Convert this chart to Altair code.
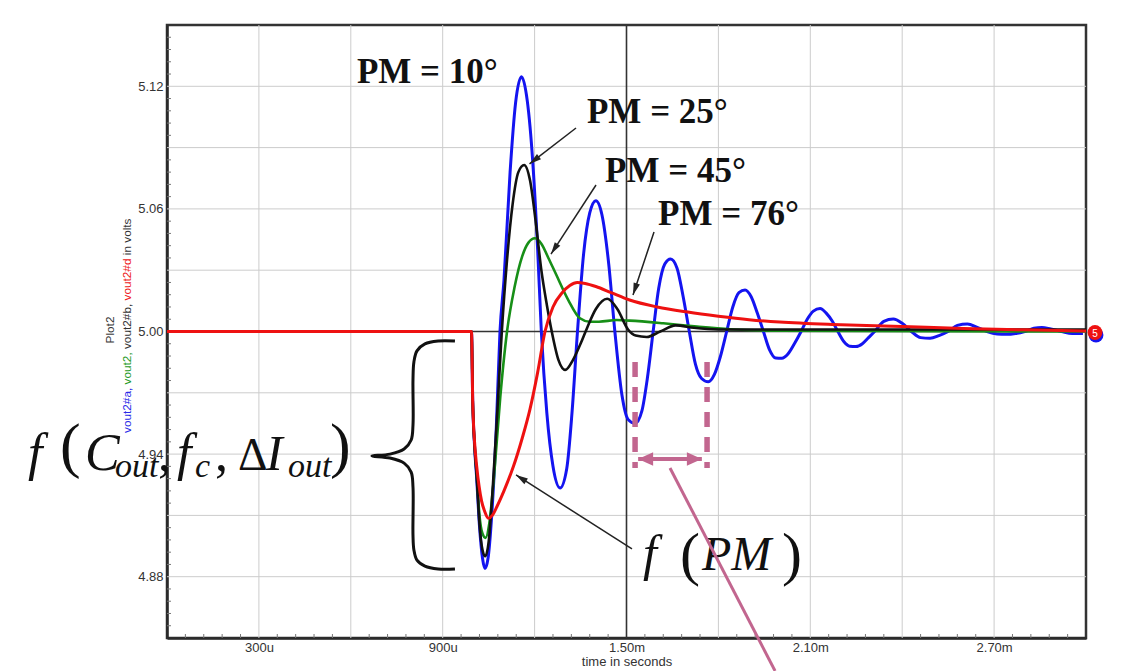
import math
import altair as alt
import pandas as pd

# ---------------- curve data (time in ms, output voltage in V) ----------------
blue_t = [0.0, 0.994, 0.998, 1.004, 1.011, 1.020, 1.030, 1.038, 1.048, 1.060, 1.075, 1.087,
          1.100, 1.120, 1.138, 1.157, 1.176, 1.194, 1.210, 1.222, 1.240, 1.260, 1.283, 1.305,
          1.322, 1.340, 1.360, 1.380, 1.400, 1.420, 1.442, 1.462, 1.485, 1.505, 1.528, 1.550,
          1.568, 1.587, 1.605, 1.625, 1.644, 1.665, 1.685, 1.705, 1.725, 1.745, 1.767, 1.787,
          1.807, 1.827, 1.847, 1.867, 1.887, 1.907, 1.927, 1.947, 1.967, 1.987, 2.007, 2.027,
          2.048, 2.070, 2.090, 2.110, 2.132, 2.152, 2.172, 2.190, 2.210, 2.229, 2.249, 2.270,
          2.290, 2.310, 2.340, 2.371, 2.400, 2.430, 2.460, 2.491, 2.520, 2.550, 2.580, 2.613,
          2.645, 2.677, 2.710, 2.741, 2.770, 2.800, 2.830, 2.856, 2.885, 2.920, 2.955, 2.990]
blue_v = [5.000, 5.000, 4.966, 4.944, 4.928, 4.905, 4.889, 4.884, 4.889, 4.910, 4.953, 5.000,
          5.025, 5.078, 5.112, 5.1247, 5.113, 5.083, 5.040, 5.000, 4.960, 4.934, 4.9234, 4.933,
          4.960, 5.000, 5.038, 5.058, 5.064, 5.057, 5.033, 5.000, 4.969, 4.957, 4.955, 4.961,
          4.977, 5.000, 5.021, 5.033, 5.0355, 5.031, 5.017, 5.000, 4.984, 4.977, 4.9754, 4.979,
          4.988, 5.000, 5.012, 5.019, 5.0203, 5.017, 5.009, 5.000, 4.991, 4.987, 4.9869, 4.989,
          4.994, 5.000, 5.006, 5.010, 5.0113, 5.009, 5.005, 5.000, 4.995, 4.9928, 4.9926, 4.994,
          4.997, 5.000, 5.005, 5.0061, 5.004, 5.000, 4.997, 4.9967, 4.998, 5.000, 5.003, 5.0037,
          5.002, 5.000, 4.9988, 4.9986, 4.999, 5.000, 5.0016, 5.002, 5.0012, 5.000, 4.999, 4.999]

green_t = [0.0, 0.994, 0.998, 1.004, 1.011, 1.020, 1.030, 1.040, 1.052, 1.068, 1.088, 1.110,
           1.135, 1.160, 1.180, 1.201, 1.222, 1.245, 1.270, 1.310, 1.348, 1.380, 1.410, 1.468,
           1.510, 1.620, 1.730, 1.840, 2.000, 3.000]
green_v = [5.000, 5.000, 4.966, 4.945, 4.930, 4.910, 4.901, 4.899, 4.906, 4.930, 4.968, 5.000,
           5.022, 5.037, 5.0435, 5.0456, 5.043, 5.036, 5.028, 5.0154, 5.0065, 5.0048, 5.0048,
           5.0056, 5.0053, 5.004, 5.0024, 5.0011, 5.0004, 5.000]

black_t = [0.0, 0.994, 0.998, 1.004, 1.011, 1.020, 1.030, 1.039, 1.050, 1.064, 1.078, 1.093,
           1.110, 1.128, 1.147, 1.166, 1.185, 1.205, 1.222, 1.240, 1.256, 1.278, 1.300, 1.325,
           1.350, 1.372, 1.400, 1.437, 1.470, 1.505, 1.530, 1.566, 1.610, 1.660, 1.720, 1.800,
           3.000]
black_v = [5.000, 5.000, 4.966, 4.944, 4.929, 4.906, 4.893, 4.890, 4.897, 4.925, 4.960, 5.000,
           5.035, 5.062, 5.078, 5.0815, 5.074, 5.052, 5.030, 5.013, 5.000, 4.986, 4.9812, 4.986,
           4.994, 5.002, 5.011, 5.016, 5.011, 5.001, 4.998, 4.9973, 5.000, 5.003, 5.0018, 5.001,
           5.001]

red_t = [0.0, 0.994, 0.998, 1.004, 1.011, 1.019, 1.027, 1.037, 1.049, 1.062, 1.076, 1.100,
         1.131, 1.160, 1.185, 1.210, 1.234, 1.260, 1.290, 1.315, 1.339, 1.365, 1.400, 1.450,
         1.510, 1.600, 1.700, 1.800, 1.900, 2.000, 2.200, 2.400, 2.600, 2.800, 3.000]
red_v = [5.000, 5.000, 4.966, 4.946, 4.934, 4.924, 4.917, 4.912, 4.9086, 4.910, 4.914, 4.922,
         4.934, 4.948, 4.962, 4.980, 5.000, 5.012, 5.019, 5.0225, 5.024, 5.0235, 5.022, 5.019,
         5.0154, 5.012, 5.0095, 5.0075, 5.0058, 5.0046, 5.0033, 5.0024, 5.0015, 5.0008, 5.0002]

# ---------------- axes / ticks ----------------
x_tick_values = [0.3, 0.9, 1.5, 2.1, 2.7]
x_tick_labels = ["300u", "900u", "1.50m", "2.10m", "2.70m"]
y_tick_values = [4.88, 4.94, 5.00, 5.06, 5.12]
x_grid = [0.3, 0.6, 0.9, 1.2, 1.8, 2.1, 2.4, 2.7]
y_grid = [4.88, 4.91, 4.94, 4.97, 5.03, 5.06, 5.09, 5.12]
x_minor = [round(0.06 * i, 3) for i in range(1, 50) if i % 5]
y_minor = [round(4.85 + 0.006 * i, 4) for i in range(1, 50) if i % 5]
cursor_t = [1.5]
cursor_v = [5.0]

# ---------------- annotations (data units) ----------------
pm_labels = ["PM = 10°", "PM = 25°", "PM = 45°", "PM = 76°"]
pm_t = [0.620, 1.371, 1.430, 1.603]
pm_v = [5.1216, 5.1020, 5.0732, 5.0521]

arrow_t0 = [1.3352, 1.4005, 1.5898, 1.5179]
arrow_v0 = [5.0996, 5.0717, 5.0487, 4.8936]
arrow_t1 = [1.1834, 1.2535, 1.5212, 1.1393]
arrow_v1 = [5.0820, 5.0379, 5.0179, 4.9298]

brace_t = [0.940, 0.885, 0.842, 0.816, 0.806, 0.803, 0.803, 0.797, 0.774, 0.728, 0.669,
           0.728, 0.774, 0.797, 0.803, 0.803, 0.806, 0.816, 0.842, 0.885, 0.940]
brace_v = [4.9953, 4.9953, 4.9939, 4.9905, 4.9851, 4.9763, 4.9542, 4.9469, 4.9425, 4.9400, 4.9391,
           4.9381, 4.9356, 4.9312, 4.9239, 4.9004, 4.8931, 4.8881, 4.8852, 4.8838, 4.8838]

# left formula f(C_out, f_c, ΔI_out)
formula_text = ["f", "(", "C", "out", ",", "f", "c", ",", "Δ", "I", "out", ")"]
formula_t = [-0.4538, -0.3493, -0.2677, -0.1698, -0.0294, 0.0326, 0.0914, 0.1567, 0.2318, 0.3232, 0.3950, 0.5321]
formula_v = [4.9322, 4.9342, 4.9322, 4.9288, 4.9322, 4.9322, 4.9288, 4.9322, 4.9322, 4.9322, 4.9288, 4.9342]
formula_size = [52, 62, 52, 34, 52, 52, 34, 52, 46, 50, 34, 62]
formula_italic = [True, False, True, True, False, True, True, False, False, True, True, False]

# f(PM)
fpm_text = ["f", "(", "PM", ")"]
fpm_t = [1.554, 1.6747, 1.7465, 2.0077]
fpm_v = [4.8833, 4.8813, 4.8833, 4.8813]
fpm_size = [50, 60, 48, 60]
fpm_italic = [True, False, True, False]

# pink period marker
period_t = [1.528, 1.763]
period_v_top = 4.9851
period_v_bot = 4.9332
period_arrow_v = 4.9376
period_arrow_t = [1.538, 1.746]
pointer_t = [1.642, 1.985]
pointer_v = [4.9332, 4.8339]

# end marker "5"
marker_t = [3.0327, 3.0294]
marker_v = [4.9983, 4.9995]

# ---------------- scales ----------------
W, H = 919, 613
T_DOMAIN = [0.0, 3.0]
V_DOMAIN = [4.85, 5.15]
PX_T = W / (T_DOMAIN[1] - T_DOMAIN[0])
PX_V = H / (V_DOMAIN[1] - V_DOMAIN[0])
SANS = "Liberation Sans"
SERIF = "Liberation Serif"
PINK = "#c2668f"

xs = alt.Scale(domain=T_DOMAIN, nice=False, zero=False)
ys = alt.Scale(domain=V_DOMAIN, nice=False, zero=False)

label_expr = f"'{x_tick_labels[-1]}'"
for val, lab in reversed(list(zip(x_tick_values[:-1], x_tick_labels[:-1]))):
    label_expr = f"datum.value < {val + 0.15:.3f} ? '{lab}' : ({label_expr})"

x_axis = alt.Axis(values=x_tick_values, labelExpr=label_expr, title="time in seconds",
                  grid=False, ticks=False, domainColor="#2a2a2a", domainWidth=2.5,
                  labelFont=SANS, labelFontSize=13, labelColor="#333333", labelPadding=3,
                  titleFont=SANS, titleFontSize=13, titleFontWeight="normal",
                  titleColor="#333333", titlePadding=1)
y_axis = alt.Axis(values=y_tick_values, format=".2f", title=None, grid=False, ticks=False,
                  domainColor="#2a2a2a", domainWidth=2.5, labelFont=SANS, labelFontSize=13,
                  labelColor="#333333", labelPadding=4)


def X(f="t"):
    return alt.X(f, type="quantitative", scale=xs, axis=x_axis)


def Y(f="v"):
    return alt.Y(f, type="quantitative", scale=ys, axis=y_axis)


one = pd.DataFrame({"k": [0]})
layers = []

# grid
layers.append(alt.Chart(pd.DataFrame({"t": x_grid})).mark_rule(color="#cccccc", strokeWidth=1)
              .encode(x=X(), y=alt.value(0), y2=alt.value(H)))
layers.append(alt.Chart(pd.DataFrame({"v": y_grid})).mark_rule(color="#cccccc", strokeWidth=1)
              .encode(y=Y(), x=alt.value(0), x2=alt.value(W)))
# minor ticks (inward)
layers.append(alt.Chart(pd.DataFrame({"t": x_minor})).mark_rule(color="#777777", strokeWidth=1)
              .encode(x=X(), y=alt.value(H - 4), y2=alt.value(H)))
layers.append(alt.Chart(pd.DataFrame({"v": y_minor})).mark_rule(color="#777777", strokeWidth=1)
              .encode(y=Y(), x=alt.value(0), x2=alt.value(4)))
# cursor cross
layers.append(alt.Chart(pd.DataFrame({"t": cursor_t})).mark_rule(color="#333333", strokeWidth=1.6)
              .encode(x=X(), y=alt.value(0), y2=alt.value(H)))
layers.append(alt.Chart(pd.DataFrame({"v": cursor_v})).mark_rule(color="#333333", strokeWidth=1.6)
              .encode(y=Y(), x=alt.value(0), x2=alt.value(W)))

# curves
for tt, vv, col, sw in [(blue_t, blue_v, "#1414f0", 3.0), (green_t, green_v, "#178f17", 2.6),
                        (black_t, black_v, "#111111", 2.6), (red_t, red_v, "#ee1111", 3.0)]:
    layers.append(alt.Chart(pd.DataFrame({"t": tt, "v": vv}))
                  .mark_line(color=col, strokeWidth=sw, interpolate="monotone")
                  .encode(x=X(), y=Y()))

# end marker
mdf = pd.DataFrame({"t": marker_t, "v": marker_v, "c": ["#1414f0", "#ee1111"]})
layers.append(alt.Chart(mdf).mark_point(filled=True, opacity=1, size=220, shape="circle")
              .encode(x=X(), y=Y(), color=alt.Color("c:N", scale=None)))
layers.append(alt.Chart(mdf.iloc[[1]]).mark_text(text="5", color="white", fontSize=10, font=SANS,
                                                 align="center", baseline="middle", dy=1)
              .encode(x=X(), y=Y()))

# PM labels
layers.append(alt.Chart(pd.DataFrame({"t": pm_t, "v": pm_v, "s": pm_labels}))
              .mark_text(font=SERIF, fontWeight="bold", fontSize=35, color="#111111",
                         align="left", baseline="alphabetic")
              .encode(x=X(), y=Y(), text="s:N"))

# arrows
adf = pd.DataFrame({"t": arrow_t0, "v": arrow_v0, "t2": arrow_t1, "v2": arrow_v1})
adf["ang"] = [(math.degrees(math.atan2((b - a) * PX_T, (d - c) * PX_V)) + 360) % 360
              for a, b, c, d in zip(arrow_t0, arrow_t1, arrow_v0, arrow_v1)]
layers.append(alt.Chart(adf).mark_rule(color="#222222", strokeWidth=1.5)
              .encode(x=X(), y=Y(), x2=alt.X2("t2"), y2=alt.Y2("v2")))
layers.append(alt.Chart(adf).mark_point(shape="M0,0L0.55,2L-0.55,2Z", filled=True, opacity=1,
                                        size=144, color="#222222")
              .encode(x=X("t2"), y=Y("v2"), angle=alt.Angle("ang:Q", scale=None)))

# brace
layers.append(alt.Chart(pd.DataFrame({"t": brace_t, "v": brace_v, "o": list(range(len(brace_t)))}))
              .mark_line(color="#111111", strokeWidth=3, interpolate="catmull-rom")
              .encode(x=X(), y=Y(), order="o:Q"))

# formulas
fdf = pd.DataFrame({"t": formula_t + fpm_t, "v": formula_v + fpm_v, "s": formula_text + fpm_text,
                    "size": formula_size + fpm_size, "it": formula_italic + fpm_italic})
for italic in (True, False):
    sub = fdf[fdf["it"] == italic]
    layers.append(alt.Chart(sub).mark_text(font=SERIF, fontStyle="italic" if italic else "normal",
                                           color="#111111", align="left", baseline="alphabetic")
                  .encode(x=X(), y=Y(), text="s:N", size=alt.Size("size:Q", scale=None)))

# pink period marker
pdf = pd.DataFrame({"t": period_t, "v": [period_v_top] * 2, "v2": [period_v_bot] * 2})
layers.append(alt.Chart(pdf).mark_rule(color=PINK, strokeWidth=5.5, strokeDash=[15, 10])
              .encode(x=X(), y=Y(), y2=alt.Y2("v2")))
layers.append(alt.Chart(pd.DataFrame({"t": [period_arrow_t[0]], "t2": [period_arrow_t[1]],
                                      "v": [period_arrow_v]}))
              .mark_rule(color=PINK, strokeWidth=4)
              .encode(x=X(), x2=alt.X2("t2"), y=Y()))
layers.append(alt.Chart(pd.DataFrame({"t": period_arrow_t, "v": [period_arrow_v] * 2,
                                      "ang": [270, 90]}))
              .mark_point(shape="M0,0L0.9,2L-0.9,2Z", filled=True, opacity=1, size=225, color=PINK)
              .encode(x=X(), y=Y(), angle=alt.Angle("ang:Q", scale=None)))
layers.append(alt.Chart(pd.DataFrame({"t": [pointer_t[0]], "t2": [pointer_t[1]],
                                      "v": [pointer_v[0]], "v2": [pointer_v[1]]}))
              .mark_rule(color=PINK, strokeWidth=3)
              .encode(x=X(), y=Y(), x2=alt.X2("t2"), y2=alt.Y2("v2")))

# y-axis title (two rotated lines, multicoloured)
layers.append(alt.Chart(one).mark_text(text="Plot2", angle=270, font=SANS, fontSize=11.8,
                                       color="#333333", align="center", baseline="middle")
              .encode(x=alt.value(-57), y=alt.value(305)))
em = {'v': 0.5, 'o': 0.556, 'u': 0.556, 't': 0.278, '2': 0.556, '#': 0.556, 'a': 0.556, ',': 0.278,
      ' ': 0.278, 'b': 0.556, 'd': 0.556, 'i': 0.222, 'n': 0.556, 'l': 0.222, 's': 0.5}
segs = [("vout2#a,", "#2a2ae8"), ("vout2,", "#1f9a1f"), ("vout2#b,", "#333333"),
        ("vout2#d", "#ee2020"), ("in volts", "#333333")]
fs = 11.8
ypos = 408.0
for s, col in segs:
    layers.append(alt.Chart(one).mark_text(text=s, angle=270, font=SANS, fontSize=fs, color=col,
                                           align="left", baseline="middle")
                  .encode(x=alt.value(-40), y=alt.value(ypos)))
    ypos -= (sum(em[ch] for ch in s) + em[' ']) * fs

chart = (alt.layer(*layers)
         .properties(width=W, height=H, autosize=alt.AutoSizeParams(type="none"),
                     padding={"left": 159, "top": 17, "right": 31, "bottom": 33},
                     background="white")
         .configure_view(stroke="#333333", strokeWidth=2.5))

chart.save("out.html", embed_options={"renderer": "svg", "actions": False})
